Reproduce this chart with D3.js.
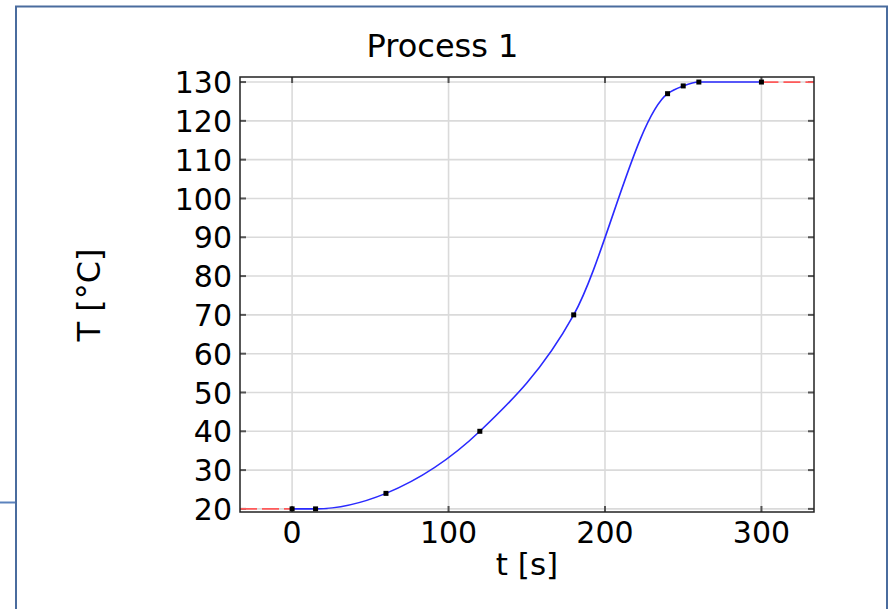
<!DOCTYPE html>
<html>
<head>
<meta charset="utf-8">
<script src="https://cdn.jsdelivr.net/npm/d3@7"></script>
<style>
  html, body { margin: 0; padding: 0; background: #fff; }
  svg { display: block; }
  text { font-family: "DejaVu Sans", sans-serif; fill: #000; }
</style>
</head>
<body>
<svg id="chart" width="890" height="609"></svg>
<script>
// ---- data ----
const title = "Process 1";
const xLabel = "t [s]";
const yLabel = "T [°C]";
const times = [0, 15, 60, 120, 180, 240, 250, 260, 300];
const temps = [20, 20, 24, 40, 70, 127, 129, 130, 130];
const xTicks = [0, 100, 200, 300];
const yTicks = [20, 30, 40, 50, 60, 70, 80, 90, 100, 110, 120, 130];
const xDomain = [-33.3, 333.6];
const yDomain = [19.2, 131.3];

const svg = d3.select("#chart");

// outer frame (as in source screenshot)
const frame = svg.append("g").attr("stroke", "#4a6c9e").attr("stroke-width", 2).attr("fill", "none");
frame.append("path").attr("d", "M16,620 L16,6.5 L887,6.5 L887,620");
frame.append("line").attr("x1", 0).attr("x2", 15).attr("y1", 502.5).attr("y2", 502.5).attr("stroke", "#5b82bd");

const L = 240, R = 814, T = 77, B = 512;
const x = d3.scaleLinear().domain(xDomain).range([L, R]);
const y = d3.scaleLinear().domain(yDomain).range([B, T]);

// grid
const grid = svg.append("g").attr("stroke", "#dadada").attr("stroke-width", 1.6);
grid.selectAll(".gx").data(xTicks).join("line")
  .attr("x1", d => x(d)).attr("x2", d => x(d)).attr("y1", T).attr("y2", B);
grid.selectAll(".gy").data(yTicks).join("line")
  .attr("x1", L).attr("x2", R).attr("y1", d => y(d)).attr("y2", d => y(d));

// inner ticks
const tk = svg.append("g").attr("stroke", "#555").attr("stroke-width", 2);
tk.selectAll(".tl").data(yTicks).join("line")
  .attr("x1", L).attr("x2", L + 6).attr("y1", d => y(d)).attr("y2", d => y(d));
tk.selectAll(".tr").data(yTicks).join("line")
  .attr("x1", R - 6).attr("x2", R).attr("y1", d => y(d)).attr("y2", d => y(d));
tk.selectAll(".tt").data(xTicks).join("line")
  .attr("x1", d => x(d)).attr("x2", d => x(d)).attr("y1", T).attr("y2", T + 6);
tk.selectAll(".tb").data(xTicks).join("line")
  .attr("x1", d => x(d)).attr("x2", d => x(d)).attr("y1", B - 6).attr("y2", B);

// extrapolation (dashed red)
const first = times[0], last = times[times.length - 1];
svg.append("line")
  .attr("x1", x(xDomain[0])).attr("x2", x(first))
  .attr("y1", y(temps[0])).attr("y2", y(temps[0]))
  .attr("stroke", "#ff5a5a").attr("stroke-width", 1.8).attr("stroke-dasharray", "17,5");
svg.append("line")
  .attr("x1", x(last)).attr("x2", x(xDomain[1]))
  .attr("y1", y(temps[temps.length - 1])).attr("y2", y(temps[temps.length - 1]))
  .attr("stroke", "#ff5a5a").attr("stroke-width", 1.8).attr("stroke-dasharray", "17,5");

// curve
const pts = times.map((t, i) => [t, temps[i]]);
svg.append("path")
  .datum(pts)
  .attr("fill", "none")
  .attr("stroke", "#2a2aff")
  .attr("stroke-width", 1.6)
  .attr("d", d3.line().x(d => x(d[0])).y(d => y(d[1])).curve(d3.curveMonotoneX));

// markers
svg.selectAll(".mk").data(pts).join("rect")
  .attr("x", d => x(d[0]) - 2.5).attr("y", d => y(d[1]) - 2.5)
  .attr("width", 5).attr("height", 5).attr("fill", "#000");

// plot frame
svg.append("rect").attr("x", L).attr("y", T).attr("width", R - L).attr("height", B - T)
  .attr("fill", "none").attr("stroke", "#222").attr("stroke-width", 1.5);

// tick labels
svg.selectAll(".yl").data(yTicks).join("text")
  .attr("x", L - 8).attr("y", d => y(d)).attr("dy", "0.37em")
  .attr("text-anchor", "end").attr("font-size", 30).text(d => d);
svg.selectAll(".xl").data(xTicks).join("text")
  .attr("x", d => x(d)).attr("y", 543)
  .attr("text-anchor", "middle").attr("font-size", 30).text(d => d);

// labels
svg.append("text").attr("x", 442.5).attr("y", 57).attr("text-anchor", "middle")
  .attr("font-size", 32).text(title);
svg.append("text").attr("x", 527).attr("y", 575).attr("text-anchor", "middle")
  .attr("font-size", 31).text(xLabel);
svg.append("text").attr("transform", "translate(100,295) rotate(-90)")
  .attr("text-anchor", "middle").attr("font-size", 32).text(yLabel);
</script>
</body>
</html>
